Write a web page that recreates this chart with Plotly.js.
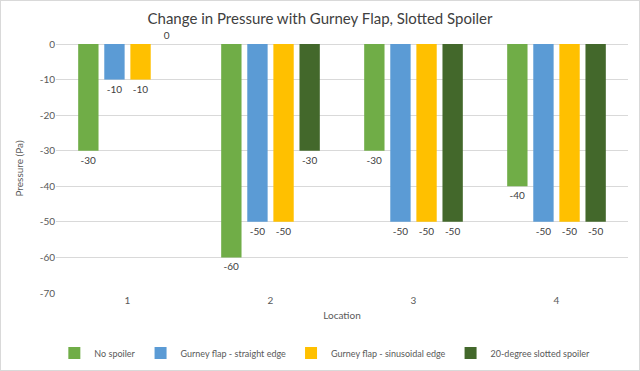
<!DOCTYPE html>
<html>
<head>
<meta charset="utf-8">
<script src="https://cdn.plot.ly/plotly-3.0.1.min.js"></script>
<style>
html,body{margin:0;padding:0;background:#fff;}
#chart{width:638px;height:369px;border:1px solid #d9d9d9;}
</style>
</head>
<body>
<div id="chart"></div>
<script>
const categories = ['1', '2', '3', '4'];
const seriesNames = ['No spoiler', 'Gurney flap - straight edge', 'Gurney flap - sinusoidal edge', '20-degree slotted spoiler'];
const noSpoiler = [-30, -60, -30, -40];
const gurneyStraight = [-10, -50, -50, -50];
const gurneySinusoidal = [-10, -50, -50, -50];
const slottedSpoiler = [0, -30, -50, -50];
const yTicks = [0, -10, -20, -30, -40, -50, -60, -70];

const colors = ['#70AD47', '#5B9BD5', '#FFC000', '#43682B'];
const allSeries = [noSpoiler, gurneyStraight, gurneySinusoidal, slottedSpoiler];
const FONT = 'Lato, "Open Sans", sans-serif';

const traces = allSeries.map((vals, i) => ({
  type: 'bar',
  name: seriesNames[i],
  x: categories,
  y: vals,
  marker: {color: colors[i]},
  text: vals.map(String),
  textposition: 'outside',
  textfont: {family: FONT, size: 10, color: '#404040'},
  cliponaxis: false,
  hoverinfo: 'skip'
}));

const layout = {
  width: 638, height: 369,
  margin: {l: 55, r: 11, t: 43, b: 77},
  paper_bgcolor: '#fff', plot_bgcolor: '#fff',
  barmode: 'group',
  bargap: 0.27,
  bargroupgap: 0.22,
  font: {family: FONT, color: '#595959'},
  title: {text: 'Change in Pressure with Gurney Flap, Slotted Spoiler',
          font: {family: FONT, size: 15, color: '#404040'}, x: 0.5, xanchor: 'center', y: 0.952, yanchor: 'middle'},
  xaxis: {
    type: 'category',
    showline: false, showgrid: false, zeroline: false,
    ticks: '', tickfont: {size: 10, color: '#595959'},
    title: {text: 'Location', font: {size: 10, color: '#595959'}, standoff: 6},
    automargin: false
  },
  yaxis: {
    range: [-70, 0],
    tickvals: yTicks,
    ticktext: yTicks.map(String),
    showgrid: true, gridcolor: '#d9d9d9', gridwidth: 1,
    zeroline: true, zerolinecolor: '#d9d9d9', zerolinewidth: 1,
    showline: false, ticks: '',
    tickfont: {size: 10, color: '#595959'},
    ticklen: 0,
    title: {text: 'Pressure (Pa)', font: {size: 10, color: '#595959'}, standoff: 14},
    automargin: false
  },
  showlegend: true,
  legend: {orientation: 'h', x: 0.47, xanchor: 'center', yref: 'container', y: 0.046, yanchor: 'middle',
           font: {size: 9, color: '#595959'}, traceorder: 'normal', itemwidth: 30},
};

Plotly.newPlot('chart', traces, layout, {displayModeBar: false, staticPlot: true});
</script>
</body>
</html>
